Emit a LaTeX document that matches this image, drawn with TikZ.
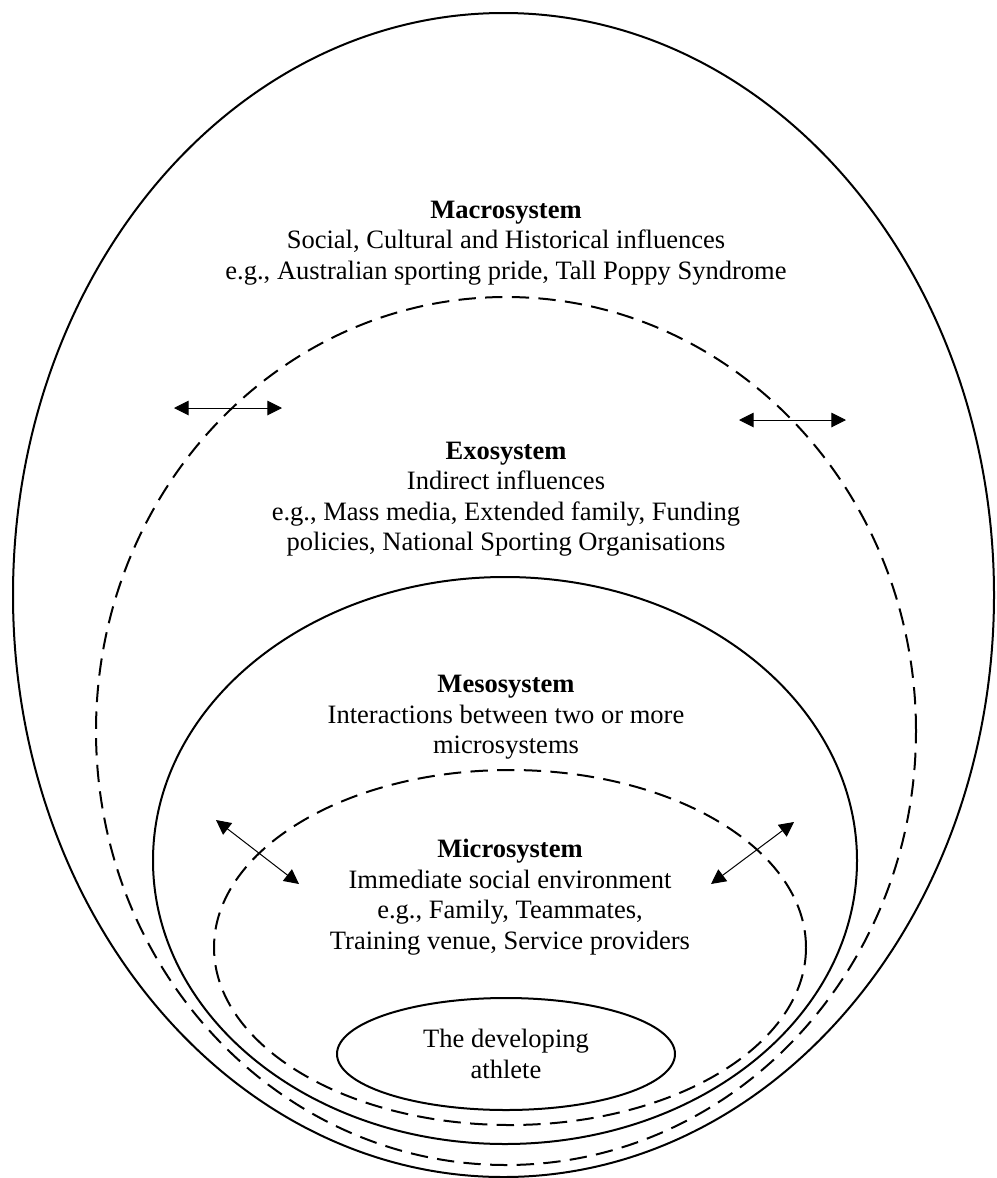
\documentclass[tikz,border=0pt]{standalone}
\usepackage{fontspec}
\setmainfont{Liberation Serif}
\usetikzlibrary{shapes.geometric,arrows.meta}
\begin{document}
\begin{tikzpicture}[x=0.75pt,y=-0.75pt,
  ring/.style={draw, ellipse, inner sep=0pt, outer sep=0pt, line width=1.5pt},
  dashring/.style={ring, dash pattern=on 13pt off 7pt},
  blocktext/.style={align=center, inner sep=0pt, font=\fontsize{19.9}{22.9}\selectfont},
  twoway/.style={line width=0.75pt, {Triangle[length=11pt,width=11pt]}-{Triangle[length=11pt,width=11pt]}}
]
\useasboundingbox (0,0) rectangle (996,1178);

% nested system rings
\node[ring, minimum width=735.75pt, minimum height=873pt] (macro) at (503.5,595) {};
\node[dashring, minimum width=615pt, minimum height=651pt] (exo) at (506,731) {};
\node[ring, minimum width=528pt, minimum height=425.25pt] (meso) at (505,860.5) {};
\node[dashring, minimum width=444pt, minimum height=266.25pt] (micro) at (510,947.5) {};
\node[ring, minimum width=253.5pt, minimum height=84pt, blocktext] (athlete) at (506,1054)
  {The developing\\athlete};

% system descriptions
\node[blocktext] (macrotext) at (506,243)
  {\textbf{Macrosystem}\\Social, Cultural and Historical influences\\e.g., Australian sporting pride, Tall Poppy Syndrome};
\node[blocktext] (exotext) at (506,499)
  {\textbf{Exosystem}\\Indirect influences\\e.g., Mass media, Extended family, Funding\\policies, National Sporting Organisations};
\node[blocktext] (mesotext) at (506,717.5)
  {\textbf{Mesosystem}\\Interactions between two or more\\microsystems};
\node[blocktext] (microtext) at (510,897)
  {\textbf{Microsystem}\\Immediate social environment\\e.g., Family, Teammates,\\Training venue, Service providers};

% two-way influence arrows
\coordinate (h1a) at (174,408);
\coordinate (h1b) at (282,408);
\coordinate (h2a) at (739,420);
\coordinate (h2b) at (846,420);
\coordinate (d1a) at (216,820);
\coordinate (d1b) at (299,884);
\coordinate (d2a) at (794,822);
\coordinate (d2b) at (711,884);
\draw[twoway] (h1a) -- (h1b);
\draw[twoway] (h2a) -- (h2b);
\draw[twoway] (d1a) -- (d1b);
\draw[twoway] (d2a) -- (d2b);
\end{tikzpicture}
\end{document}
